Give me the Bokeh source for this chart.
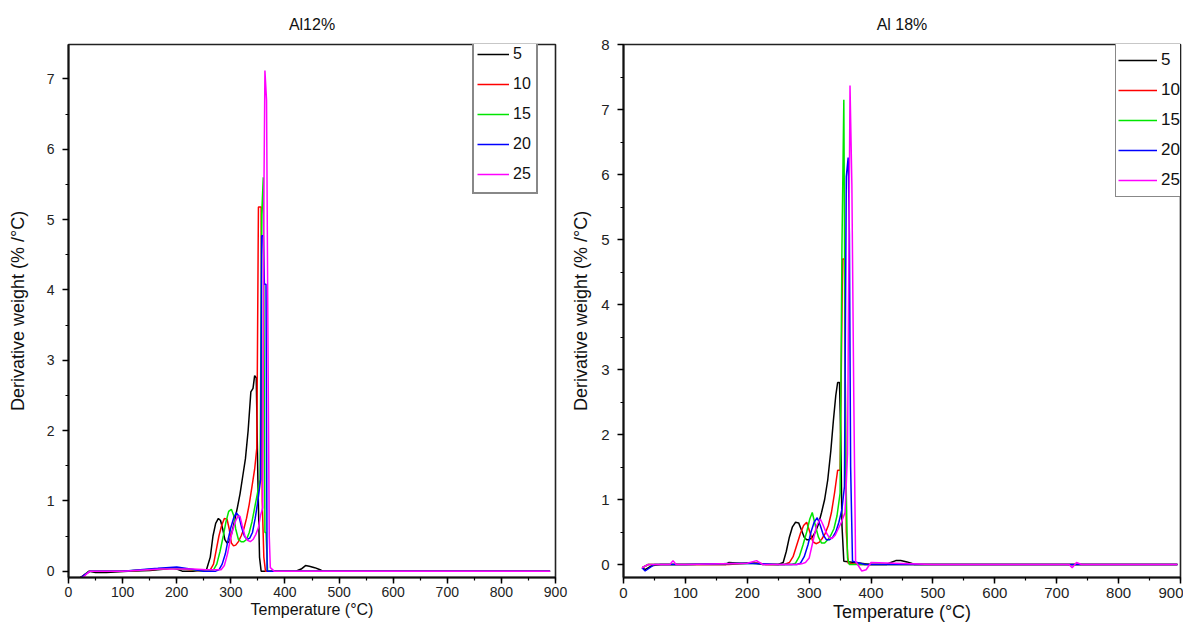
from bokeh.plotting import figure
from bokeh.layouts import row
from bokeh.models import Range1d, SingleIntervalTicker, Legend, LegendItem
from bokeh.embed import file_html
from bokeh.resources import INLINE

# ---------------- data ----------------
rates = ["5", "10", "15", "20", "25"]
colors = ["#000000", "#ff0000", "#00e600", "#0000ff", "#ff00ff"]

# Al 12 %
l5_T = [20, 28, 38, 50, 70, 110, 150, 180, 190, 200, 210, 230, 255, 262, 267, 272, 277, 281, 285, 289, 293, 297, 302, 307, 312, 317, 322, 327, 332, 337, 341, 344, 347, 350, 353, 356, 380, 420, 430, 438, 445, 455, 465, 470, 890]
l5_V = [-0.1, -0.06, 0, -0.02, -0.02, 0, 0.01, 0.03, 0.05, 0.03, 0, 0, 0.02, 0.2, 0.5, 0.68, 0.75, 0.72, 0.6, 0.45, 0.4, 0.42, 0.55, 0.72, 0.9, 1.1, 1.35, 1.6, 2.0, 2.55, 2.6, 2.78, 2.75, 1.3, 0.2, 0, 0, 0, 0.03, 0.08, 0.07, 0.05, 0.02, 0, 0]
l10_T = [22, 30, 40, 60, 100, 150, 170, 200, 225, 250, 262, 268, 273, 278, 283, 288, 293, 297, 301, 305, 309, 314, 319, 324, 329, 334, 339, 344, 348, 351, 356, 358, 361, 364, 380, 890]
l10_V = [-0.1, -0.05, 0, 0, 0, 0.02, 0.03, 0.04, 0.02, 0, 0.02, 0.1, 0.3, 0.5, 0.65, 0.75, 0.74, 0.6, 0.4, 0.36, 0.37, 0.42, 0.5, 0.6, 0.75, 0.95, 1.2, 1.45, 1.75, 5.18, 5.18, 1.0, 0.2, 0, 0, 0]
l15_T = [25, 32, 40, 60, 100, 160, 190, 220, 250, 268, 274, 280, 286, 291, 296, 301, 305, 309, 314, 319, 324, 329, 334, 339, 344, 349, 354, 357, 360, 363, 365, 368, 380, 890]
l15_V = [-0.1, -0.04, 0, 0, 0, 0.03, 0.04, 0.03, 0, 0.02, 0.1, 0.28, 0.5, 0.7, 0.85, 0.88, 0.8, 0.6, 0.45, 0.42, 0.42, 0.45, 0.55, 0.7, 0.9, 1.1, 1.3, 5.07, 5.6, 0.55, 0.55, 0, 0, 0]
l20_T = [22, 30, 40, 60, 100, 165, 180, 200, 225, 250, 272, 278, 284, 290, 295, 300, 305, 310, 315, 320, 325, 330, 335, 340, 345, 350, 355, 357, 360, 362, 365, 367, 380, 890]
l20_V = [-0.1, -0.05, 0, 0, 0, 0.04, 0.05, 0.06, 0.03, 0, 0, 0.02, 0.1, 0.25, 0.45, 0.62, 0.75, 0.83, 0.78, 0.62, 0.5, 0.45, 0.47, 0.55, 0.75, 1.0, 1.3, 4.77, 4.77, 4.08, 4.08, 0, 0, 0]
l25_T = [25, 32, 40, 60, 100, 170, 200, 230, 255, 276, 282, 288, 294, 299, 304, 309, 313, 317, 321, 326, 331, 336, 341, 346, 351, 355, 359, 361, 363, 366, 369, 371, 373, 380, 890]
l25_V = [-0.1, -0.05, 0, 0, 0, 0.03, 0.03, 0.03, 0.02, 0.02, 0.02, 0.08, 0.25, 0.45, 0.6, 0.72, 0.78, 0.78, 0.65, 0.5, 0.44, 0.42, 0.45, 0.52, 0.62, 0.8, 0.9, 5.25, 7.12, 6.7, 2.8, 0.5, 0.05, 0, 0]

# Al 18 %
r5_T = [30, 35, 45, 60, 100, 165, 170, 190, 215, 225, 250, 258, 263, 268, 273, 278, 283, 288, 292, 296, 300, 305, 310, 315, 320, 325, 330, 335, 339, 343, 346, 349, 351, 353, 356, 400, 425, 432, 440, 448, 458, 465, 470, 895]
r5_V = [-0.05, -0.08, -0.02, 0, 0, 0, 0.03, 0.02, 0.02, 0, 0, 0.03, 0.2, 0.42, 0.58, 0.65, 0.64, 0.52, 0.42, 0.38, 0.38, 0.42, 0.5, 0.62, 0.8, 1.0, 1.3, 1.75, 2.2, 2.6, 2.8, 2.8, 2.0, 0.6, 0.05, 0, 0, 0.03, 0.06, 0.06, 0.04, 0.02, 0, 0]
r10_T = [30, 40, 60, 100, 170, 200, 220, 230, 260, 268, 274, 280, 286, 291, 296, 301, 306, 311, 316, 321, 326, 331, 336, 341, 346, 350, 354, 357, 360, 363, 380, 895]
r10_V = [-0.05, 0, 0, 0, 0, 0.02, 0.02, 0, 0, 0.03, 0.12, 0.3, 0.48, 0.6, 0.65, 0.5, 0.35, 0.32, 0.34, 0.4, 0.48, 0.6, 0.8, 1.1, 1.45, 1.45, 4.7, 4.7, 0.5, 0.02, 0, 0]
r15_T = [30, 40, 60, 100, 200, 240, 265, 272, 278, 284, 290, 296, 301, 305, 310, 315, 320, 325, 330, 335, 340, 345, 350, 353, 356, 359, 362, 365, 380, 895]
r15_V = [-0.05, 0, 0, 0, 0.02, 0, 0, 0, 0.02, 0.12, 0.3, 0.5, 0.7, 0.8, 0.6, 0.42, 0.33, 0.33, 0.38, 0.45, 0.55, 0.75, 1.1, 4.9, 7.15, 1.6, 0.1, 0, 0, 0]
r20_T = [30, 35, 50, 100, 200, 250, 280, 286, 292, 298, 303, 308, 313, 318, 323, 328, 333, 338, 343, 348, 353, 357, 360, 363, 365, 367, 370, 390, 895]
r20_V = [-0.05, -0.1, 0, 0, 0.02, 0, 0, 0.02, 0.12, 0.3, 0.5, 0.65, 0.72, 0.6, 0.45, 0.38, 0.38, 0.42, 0.5, 0.65, 0.85, 1.2, 5.97, 6.26, 5.07, 1.5, 0.05, 0, 0]
r25_T = [30, 40, 75, 80, 85, 100, 200, 215, 220, 225, 250, 280, 288, 294, 300, 306, 312, 318, 322, 327, 332, 337, 342, 347, 352, 358, 362, 366, 369, 372, 375, 385, 392, 400, 500, 720, 725, 732, 740, 895]
r25_V = [-0.05, 0, 0, 0.06, 0, 0, 0.02, 0.06, 0.03, 0, 0, 0, 0.01, 0.03, 0.1, 0.35, 0.6, 0.7, 0.62, 0.5, 0.42, 0.4, 0.45, 0.55, 0.65, 0.8, 1.7, 7.37, 5.85, 2.65, 0.05, -0.1, -0.08, 0.03, 0, 0, -0.05, 0.03, 0, 0]

left_series = [(l5_T, l5_V), (l10_T, l10_V), (l15_T, l15_V), (l20_T, l20_V), (l25_T, l25_V)]
right_series = [(r5_T, r5_V), (r10_T, r10_V), (r15_T, r15_V), (r20_T, r20_V), (r25_T, r25_V)]

FONT = "Liberation Sans"
Y_LABEL = "Derivative weight (% /°C)"
X_LABEL = "Temperature (°C)"


def make_plot(title, series, width, height, borders, y_range, tick_fs, xlabel_fs, ylabel_fs,
              legend_xy, legend_glyph_w, legend_item_h, legend_spacing, legend_pad,
              legend_fs, legend_border_w, ylab_standoff, title_standoff, xlab_standoff,
              xtick_standoff):
    bl, br, bt, bb = borders
    p = figure(width=width, height=height, output_backend="svg", toolbar_location=None,
               x_range=Range1d(0, 900), y_range=Range1d(*y_range),
               min_border_left=bl, min_border_right=br, min_border_top=bt, min_border_bottom=bb,
               background_fill_color="white", border_fill_color="white")
    p.title.text = title
    p.title.align = "center"
    p.title.text_font = FONT
    p.title.text_font_size = "16px"
    p.title.text_font_style = "normal"
    p.title.text_color = "#111111"
    p.title.standoff = title_standoff
    p.xgrid.visible = False
    p.ygrid.visible = False
    p.outline_line_color = "#222222"
    p.outline_line_width = 1.6

    p.xaxis.ticker = SingleIntervalTicker(interval=100, num_minor_ticks=2)
    p.yaxis.ticker = SingleIntervalTicker(interval=1, num_minor_ticks=2)
    for ax in (p.xaxis[0], p.yaxis[0]):
        ax.axis_line_width = 2
        ax.axis_line_color = "#111111"
        ax.major_tick_out = 6
        ax.major_tick_in = 0
        ax.minor_tick_out = 3
        ax.minor_tick_in = 0
        ax.major_tick_line_width = 1.5
        ax.minor_tick_line_width = 1.2
        ax.major_label_text_font = FONT
        ax.major_label_text_font_size = tick_fs
        ax.major_label_text_color = "#222222"
        ax.axis_label_text_font = FONT
        ax.axis_label_text_font_style = "normal"
        ax.axis_label_text_color = "#111111"
    p.xaxis.axis_label_text_font_size = xlabel_fs
    p.yaxis.axis_label_text_font_size = ylabel_fs
    p.xaxis.major_label_standoff = xtick_standoff
    p.yaxis.major_label_standoff = 8
    p.xaxis.axis_label = X_LABEL
    p.yaxis.axis_label = Y_LABEL
    p.xaxis.axis_label_standoff = xlab_standoff
    p.yaxis.axis_label_standoff = ylab_standoff

    items = []
    for (t, v), c, name in zip(series, colors, rates):
        r = p.line(t, v, line_color=c, line_width=1.5)
        items.append(LegendItem(label=name, renderers=[r]))

    leg = Legend(items=items, location=legend_xy)
    leg.glyph_width = legend_glyph_w
    leg.glyph_height = legend_item_h
    leg.label_height = legend_item_h
    leg.spacing = legend_spacing
    leg.padding = legend_pad
    leg.margin = 0
    leg.label_standoff = 4
    leg.label_text_font = FONT
    leg.label_text_font_size = legend_fs
    leg.label_text_color = "#111111"
    leg.border_line_color = "#111111"
    leg.border_line_width = legend_border_w
    leg.background_fill_color = "white"
    leg.background_fill_alpha = 1.0
    p.add_layout(leg, "center")
    return p


p1 = make_plot("Al12%", left_series, 568, 628, (68, 13, 44, 46), (-0.09, 7.49),
               "14px", "16px", "18px", (404, 383), 32, 30, 0, 3, "16px", 2, 16, 24, 1, 3)
p2 = make_plot("Al 18%", right_series, 615, 628, (53, 3, 42, 51), (-0.2, 8.0),
               "15px", "18px", "18px", (492, 380), 39, 28, 2, 2, "17px", 1.5, 7, 24, 1, 4)

layout = row(p1, p2)
open("out.html", "w").write(file_html(layout, INLINE))
